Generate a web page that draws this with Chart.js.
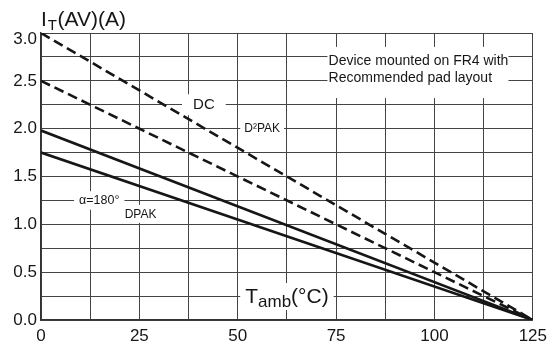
<!DOCTYPE html>
<html>
<head>
<meta charset="utf-8">
<script src="https://cdn.jsdelivr.net/npm/chart.js@4.4.0/dist/chart.umd.min.js"></script>
<style>
  html, body { margin: 0; padding: 0; background: #fff; }
  #wrap { width: 553px; height: 346px; position: relative; }
</style>
</head>
<body>
<div id="wrap"><canvas id="derating"></canvas></div>
<script>
// Dati: temperatura ambiente (°C) e corrente media (A)
const tempAmb = [0, 125];
const dcValues = [3.0, 0];
const d2pakValues = [2.5, 0];
const dpakValues = [1.98, 0];
const alphaValues = [1.75, 0];

const xTicks = [0, 25, 50, 75, 100, 125];
const yTicks = [0.0, 0.5, 1.0, 1.5, 2.0, 2.5, 3.0];

// Etichette nel grafico (coordinate in unità dei dati)
const notes = [
  { text: "DC", x: 41.4, y: 2.25, size: 15, pad: 11 },
  { text: "D²PAK", x: 56.2, y: 2.0, size: 12, pad: 4 },
  { text: "α=180°", x: 14.8, y: 1.25, size: 12.5, pad: 5 },
  { text: "DPAK", x: 25.3, y: 1.11, size: 12, pad: 3 },
];
// Riquadro con la nota sul montaggio
const boxNote = { x0: 72.8, x1: 118.8, y0: 2.32, y1: 2.855 };
const boxLines = [
  { text: "Device mounted on FR4 with", x: 73.1, y: 2.71 },
  { text: "Recommended pad layout", x: 73.1, y: 2.53 },
];

const FONT = "'Liberation Sans', Arial, sans-serif";
const INK = "#161616";

const toSeries = (vals) => tempAmb.map((t, i) => ({ x: t, y: vals[i] }));

const lineStyle = (label, vals, dashed) => ({
  label: label,
  data: toSeries(vals),
  borderColor: INK,
  borderWidth: 2.6,
  borderDash: dashed ? [10, 5] : [],
  pointRadius: 0,
  fill: false,
  tension: 0,
});

// Plugin per etichette con sfondo bianco e titoli degli assi
const notesPlugin = {
  id: "notes",
  beforeDatasetsDraw(chart) {
    const { ctx, scales } = chart;
    const sx = (v) => scales.x.getPixelForValue(v);
    const sy = (v) => scales.y.getPixelForValue(v);
    ctx.save();
    ctx.textBaseline = "middle";
    ctx.textAlign = "left";

    notes.forEach((n) => {
      ctx.font = `${n.size}px ${FONT}`;
      const w = ctx.measureText(n.text).width;
      const px = sx(n.x);
      const py = sy(n.y);
      const left = px - w / 2;
      ctx.fillStyle = "#fff";
      ctx.fillRect(left - n.pad, py - n.size / 2 - 3, w + n.pad * 2, n.size + 6);
      ctx.fillStyle = INK;
      ctx.fillText(n.text, left, py + 0.5);
    });

    // riquadro bianco della nota
    ctx.fillStyle = "#fff";
    ctx.fillRect(sx(boxNote.x0), sy(boxNote.y1), sx(boxNote.x1) - sx(boxNote.x0), sy(boxNote.y0) - sy(boxNote.y1));
    ctx.fillStyle = INK;
    ctx.font = `14px ${FONT}`;
    boxLines.forEach((l) => ctx.fillText(l.text, sx(l.x), sy(l.y)));

    // Titolo asse x: T_amb(°C), centrato su 62.5 / 0.25
    const tx = sx(62.5);
    const ty = sy(0.25);
    ctx.font = `21px ${FONT}`;
    const wT = ctx.measureText("T").width;
    ctx.font = `17px ${FONT}`;
    const wSub = ctx.measureText("amb").width;
    ctx.font = `21px ${FONT}`;
    const wRest = ctx.measureText("(°C)").width;
    const total = wT + wSub + wRest;
    const x0 = tx - total / 2;
    ctx.fillStyle = "#fff";
    ctx.fillRect(x0 - 5, ty - 13, total + 10, 27);
    ctx.fillStyle = INK;
    ctx.textBaseline = "alphabetic";
    ctx.font = `21px ${FONT}`;
    ctx.fillText("T", x0, ty + 7);
    ctx.font = `17px ${FONT}`;
    ctx.fillText("amb", x0 + wT, ty + 11);
    ctx.font = `21px ${FONT}`;
    ctx.fillText("(°C)", x0 + wT + wSub, ty + 7);
    ctx.restore();
  },
  afterDraw(chart) {
    const { ctx, scales } = chart;
    ctx.save();
    ctx.fillStyle = INK;
    // etichetta 3.0 spostata sotto il bordo superiore
    ctx.font = `17px ${FONT}`;
    ctx.textAlign = "right";
    ctx.textBaseline = "middle";
    ctx.fillText("3.0", scales.y.left + scales.y.width - 4, scales.y.getPixelForValue(3.0) + 6);

    // Titolo asse y: I_T(AV)(A)
    ctx.textBaseline = "alphabetic";
    ctx.textAlign = "left";
    let x = 41;
    ctx.font = `21px ${FONT}`;
    ctx.fillText("I", x, 26);
    x += ctx.measureText("I").width + 1;
    ctx.font = `15px ${FONT}`;
    ctx.fillText("T", x, 30);
    x += ctx.measureText("T").width + 0.5;
    ctx.font = `21px ${FONT}`;
    ctx.fillText("(AV)(A)", x, 26);
    ctx.restore();
  },
};

new Chart(document.getElementById("derating"), {
  type: "line",
  data: {
    datasets: [
      lineStyle("DC", dcValues, true),
      lineStyle("D²PAK", d2pakValues, true),
      lineStyle("DPAK", dpakValues, false),
      lineStyle("α=180° DPAK", alphaValues, false),
    ],
  },
  options: {
    responsive: true,
    maintainAspectRatio: false,
    animation: false,
    layout: { padding: { top: 33, right: 15, left: 0, bottom: 0 } },
    plugins: {
      legend: { display: false },
      tooltip: { enabled: false },
    },
    scales: {
      x: {
        type: "linear",
        min: 0,
        max: 125,
        afterFit: (scale) => { scale.height = 26; },
        afterBuildTicks: (scale) => {
          const t = [];
          for (let v = 0; v <= 125; v += 12.5) t.push({ value: v });
          scale.ticks = t;
        },
        ticks: {
          autoSkip: false,
          maxRotation: 0,
          color: INK,
          padding: 6,
          font: { family: FONT, size: 17 },
          callback: (v) => (xTicks.includes(v) ? String(v) : ""),
        },
        grid: { color: "#444", lineWidth: 1, drawTicks: false },
        border: { color: "#333", width: 1.5 },
      },
      y: {
        type: "linear",
        min: 0,
        max: 3,
        afterFit: (scale) => { scale.width = 41; },
        afterBuildTicks: (scale) => {
          const t = [];
          for (let v = 0; v <= 3.0001; v += 0.25) t.push({ value: Math.round(v * 100) / 100 });
          scale.ticks = t;
        },
        ticks: {
          autoSkip: false,
          color: INK,
          padding: 4,
          font: { family: FONT, size: 17 },
          // 3.0 viene disegnata a parte dal plugin
          callback: (v) => (yTicks.includes(v) && v !== 3 ? v.toFixed(1) : ""),
        },
        grid: { color: "#444", lineWidth: 1, drawTicks: false },
        border: { color: "#333", width: 1.5 },
      },
    },
  },
  plugins: [notesPlugin],
});
</script>
</body>
</html>
